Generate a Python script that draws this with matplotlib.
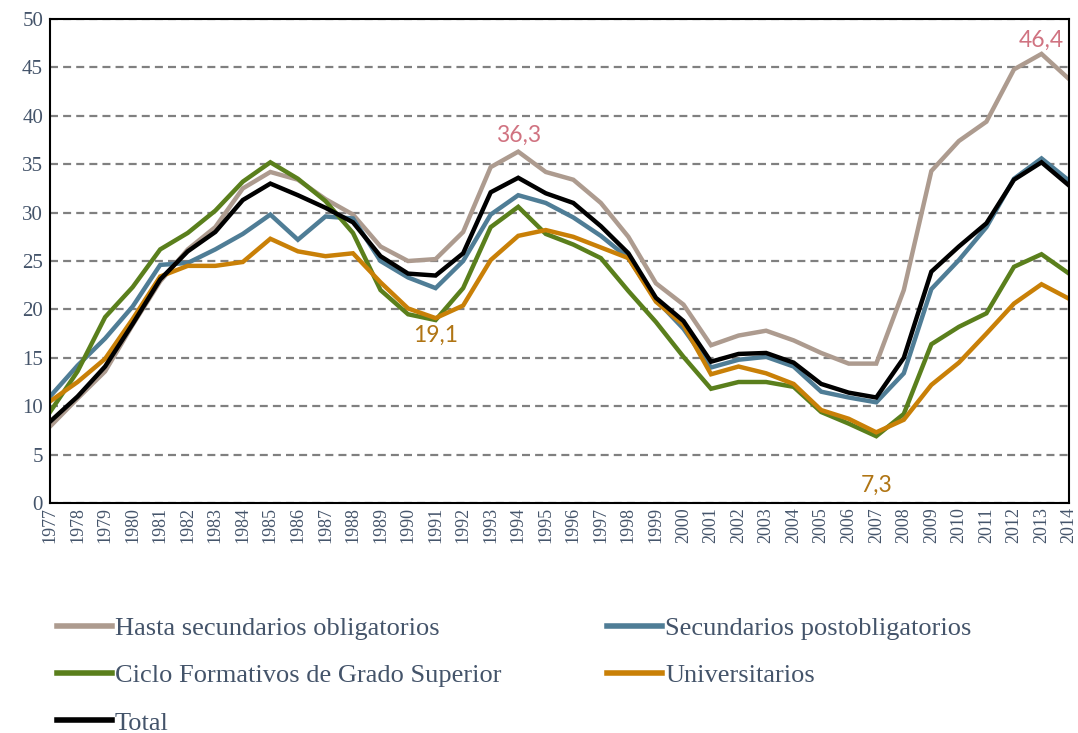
import matplotlib.pyplot as plt
import numpy as np

years = list(range(1977, 2015))

hasta_sec = [7.9, 10.8, 13.6, 18.4, 22.9, 26.2, 28.5, 32.5, 34.2, 33.4, 31.4, 29.8,
             26.5, 25.0, 25.2, 28.0, 34.7, 36.3, 34.2, 33.4, 31.0, 27.5, 22.7, 20.5,
             16.3, 17.3, 17.8, 16.8, 15.5, 14.4, 14.4, 22.0, 34.3, 37.4, 39.4, 44.8,
             46.4, 43.8]
sec_post = [11.0, 14.2, 17.0, 20.3, 24.6, 24.8, 26.2, 27.8, 29.8, 27.2, 29.6, 29.4,
            25.0, 23.3, 22.2, 25.0, 29.8, 31.8, 31.0, 29.5, 27.6, 25.3, 21.0, 18.0,
            14.0, 14.8, 15.1, 14.1, 11.5, 10.9, 10.4, 13.4, 22.1, 25.1, 28.5, 33.5,
            35.6, 33.3]
ciclo_fp = [9.4, 13.6, 19.2, 22.3, 26.2, 27.9, 30.2, 33.2, 35.2, 33.5, 31.2, 27.9,
            22.0, 19.5, 18.9, 22.2, 28.5, 30.6, 27.8, 26.7, 25.3, 21.9, 18.7, 15.1,
            11.8, 12.5, 12.5, 12.0, 9.4, 8.2, 6.9, 9.2, 16.4, 18.2, 19.6, 24.4,
            25.7, 23.7]
universit = [10.5, 12.5, 14.9, 19.0, 23.4, 24.5, 24.5, 24.9, 27.3, 26.0, 25.5, 25.8,
             22.8, 20.1, 19.1, 20.4, 25.1, 27.6, 28.2, 27.5, 26.4, 25.3, 20.8, 18.4,
             13.3, 14.1, 13.4, 12.3, 9.6, 8.7, 7.3, 8.6, 12.2, 14.5, 17.5, 20.6,
             22.6, 21.1]
total = [8.4, 11.0, 14.1, 18.5, 23.1, 26.0, 28.0, 31.3, 33.0, 31.8, 30.5, 29.0,
         25.5, 23.7, 23.5, 25.8, 32.1, 33.6, 32.0, 31.0, 28.6, 25.8, 21.2, 18.8,
         14.6, 15.4, 15.5, 14.5, 12.3, 11.4, 10.9, 15.0, 23.9, 26.5, 28.9, 33.4,
         35.2, 32.8]

series = [
    ("Hasta secundarios obligatorios", hasta_sec, "#ad9b8f"),
    ("Secundarios postobligatorios", sec_post, "#4f7d96"),
    ("Ciclo Formativos de Grado Superior", ciclo_fp, "#5a7f1c"),
    ("Universitarios", universit, "#c98007"),
    ("Total", total, "#000000"),
]

text_col = "#44546a"
serif = ["Liberation Serif", "DejaVu Serif"]

fig = plt.figure(figsize=(10.78, 7.33), dpi=100)
ax = fig.add_axes([0.0464, 0.3138, 0.9453, 0.6602])

lines = []
for name, vals, col in series:
    ln, = ax.plot(years, vals, color=col, lw=3.2, label=name, solid_joinstyle="miter")
    lines.append(ln)

ax.set_xlim(1977, 2014)
ax.set_ylim(0, 50)
ax.set_yticks(np.arange(0, 51, 5))
ax.set_xticks(years)
ax.set_xticklabels([str(y) for y in years], rotation=90, family=serif,
                   fontsize=13, color=text_col)
ax.set_yticklabels([str(v) for v in range(0, 51, 5)], family=serif,
                   fontsize=15, color=text_col)
ax.tick_params(length=0, pad=3)
ax.tick_params(axis="y", pad=5)
ax.grid(axis="y", color="#808080", lw=1.6, linestyle=(0, (3.6, 2.3)))
ax.set_axisbelow(True)
for s in ax.spines.values():
    s.set_color("black")
    s.set_linewidth(1.5)

lab = ["Lato", "DejaVu Sans"]
ax.text(1994, 37.3, "36,3", color="#d07381", fontsize=16.5, ha="center", family=lab)
ax.text(2013, 47.1, "46,4", color="#d07381", fontsize=16.5, ha="center", family=lab)
ax.text(1991, 16.6, "19,1", color="#b07514", fontsize=16.5, ha="center", family=lab)
ax.text(2007, 1.2, "7,3", color="#b07514", fontsize=16.5, ha="center", family=lab)

# legend filled row by row like the original
order = [0, 2, 4, 1, 3]
leg = fig.legend([lines[i] for i in order], [series[i][0] for i in order],
                 loc="upper left", bbox_to_anchor=(0.043, 0.173), ncol=2,
                 frameon=False, prop={"family": serif, "size": 19},
                 handlelength=2.1, handletextpad=0.1, columnspacing=4.0,
                 labelspacing=0.9, borderaxespad=0)
for t in leg.get_texts():
    t.set_color(text_col)
for h in leg.legend_handles:
    h.set_linewidth(4)

fig.savefig("out.png", dpi=100)
